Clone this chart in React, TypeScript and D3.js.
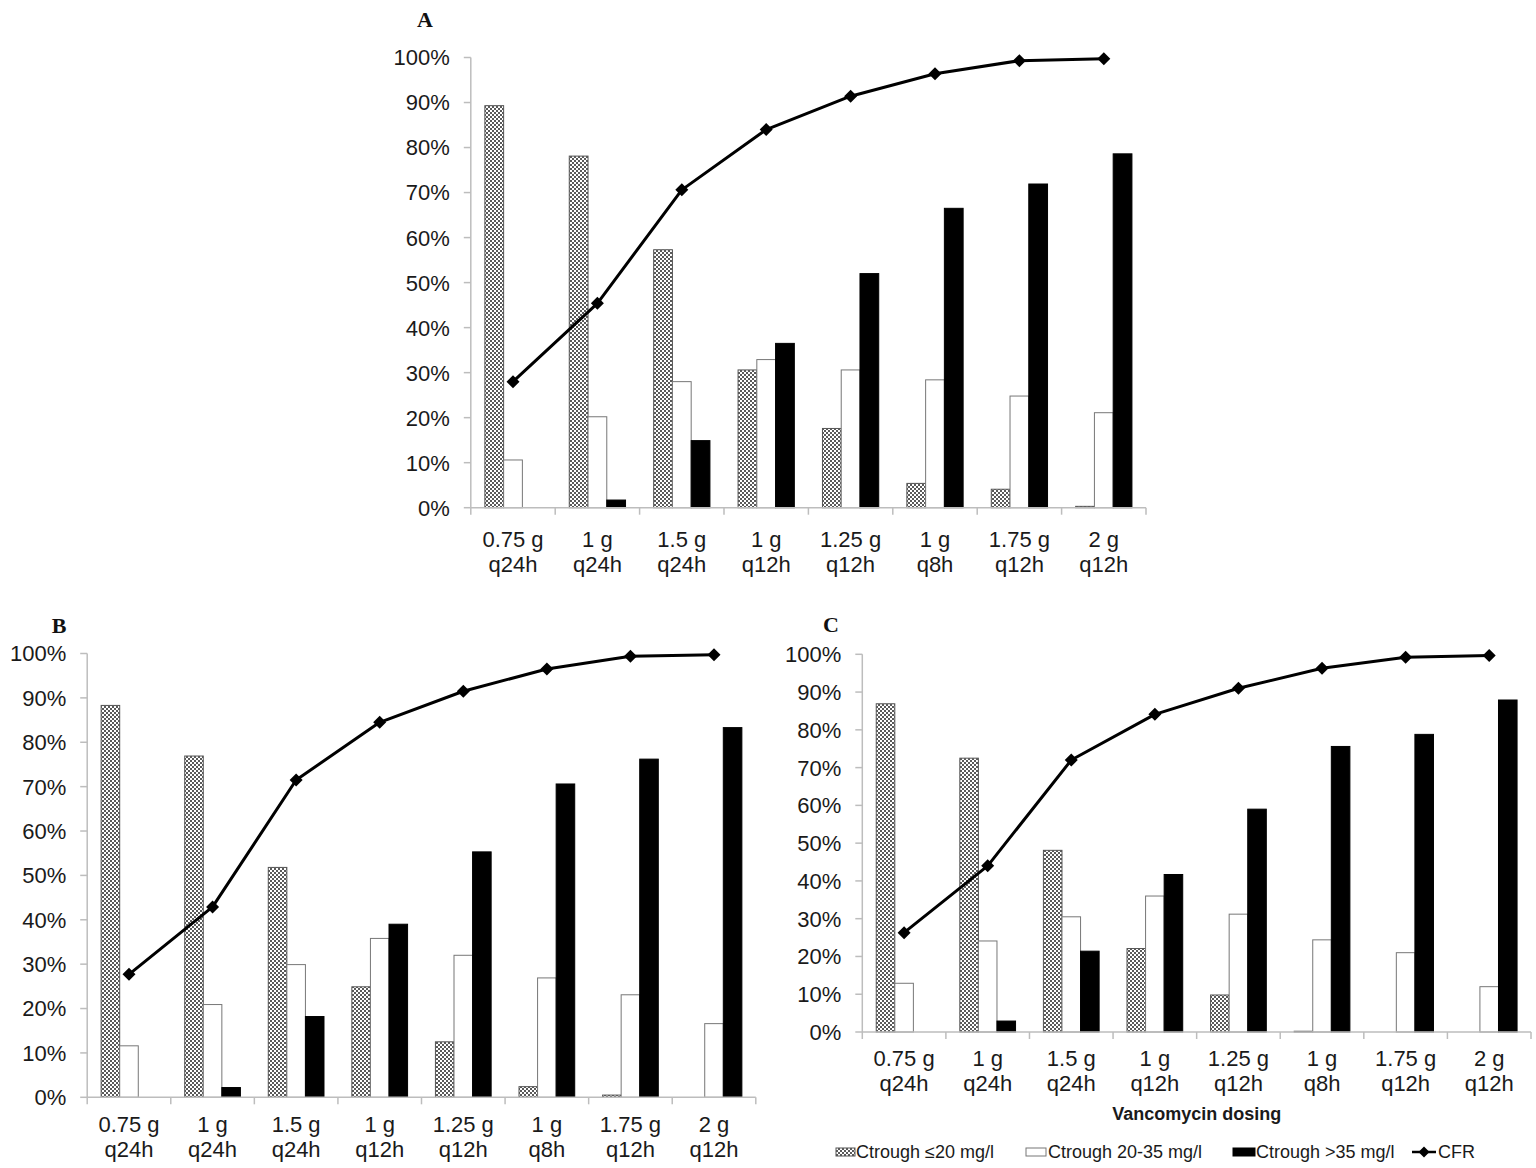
import * as d3 from "d3";
import React from "react";

// dosing regimens (two-line tick labels)
const doseLines = ["0.75 g", "1 g", "1.5 g", "1 g", "1.25 g", "1 g", "1.75 g", "2 g"];
const freqLines = ["q24h", "q24h", "q24h", "q12h", "q12h", "q8h", "q12h", "q12h"];
const categories = doseLines.map((d, i) => `${d} ${freqLines[i]}`);

const seriesNames = ["Ctrough \u226420 mg/l", "Ctrough 20-35 mg/l", "Ctrough >35 mg/l"];
const yTicks = [0, 10, 20, 30, 40, 50, 60, 70, 80, 90, 100];

// panel A
const aLow = [89.3, 78.1, 57.3, 30.6, 17.6, 5.4, 4.1, 0.3];
const aMid = [10.6, 20.2, 28.0, 32.9, 30.6, 28.4, 24.8, 21.1];
const aHigh = [0, 1.7, 14.9, 36.5, 52.0, 66.5, 71.9, 78.6];
const aCfr = [28.0, 45.4, 70.6, 84.0, 91.4, 96.4, 99.3, 99.7];

// panel B
const bLow = [88.3, 76.9, 51.8, 24.9, 12.5, 2.4, 0.5, 0];
const bMid = [11.6, 20.9, 29.9, 35.8, 32.0, 26.9, 23.1, 16.6];
const bHigh = [0, 2.2, 18.2, 39.0, 55.3, 70.6, 76.2, 83.3];
const bCfr = [27.7, 42.9, 71.5, 84.5, 91.5, 96.5, 99.4, 99.7];

// panel C
const cLow = [86.9, 72.5, 48.1, 22.1, 9.8, 0.2, 0, 0];
const cMid = [12.9, 24.1, 30.5, 36.0, 31.2, 24.4, 21.0, 12.0];
const cHigh = [0, 2.9, 21.4, 41.7, 59.0, 75.6, 78.8, 87.9];
const cCfr = [26.3, 44.0, 72.0, 84.1, 91.0, 96.3, 99.2, 99.7];

const FONT = "'Liberation Sans', Arial, sans-serif";
const AXIS = "#bdbdbd";
const TXT = "#1a1a1a";

const fills = ["url(#hatch)", "#fff", "#000"];
const strokes = ["#555", "#777", "#000"];

const diamond = (r: number) => `M0,${-r}L${r},0L0,${r}L${-r},0Z`;

const Panel = ({ cfg, low, mid, high, cfr }: any) => {
  const x = d3.scaleBand().domain(categories).range([cfg.left, cfg.right]);
  const inner = d3.scaleBand().domain(["0", "1", "2"]).range([0, x.step()]).paddingOuter(0.75);
  const y = d3.scaleLinear().domain([0, 100]).range([cfg.bottom, cfg.top]);
  const series = [low, mid, high];
  const line = d3.line<number>()
    .x((_, i) => (x(categories[i]) as number) + x.bandwidth() / 2)
    .y((d) => y(d));

  return (
    <g>
      <text x={cfg.letterX} y={cfg.letterY} textAnchor="middle"
        style={{ font: "bold 22px 'Liberation Serif', 'Times New Roman', serif" }} fill="#111">
        {cfg.letter}
      </text>

      {/* y axis */}
      <line x1={cfg.left} x2={cfg.left} y1={y(100)} y2={y(0)} stroke={AXIS} strokeWidth={1.5} />
      {yTicks.map((t) => (
        <g key={t}>
          <line x1={cfg.left - 7} x2={cfg.left} y1={y(t)} y2={y(t)} stroke={AXIS} strokeWidth={1.5} />
          <text x={cfg.left - 21} y={y(t)} dy="0.36em" textAnchor="end"
            style={{ font: `22px ${FONT}` }} fill={TXT}>{t}%</text>
        </g>
      ))}

      {/* bars */}
      {series.map((vals: number[], s: number) =>
        vals.map((v, i) =>
          v > 0 ? (
            <rect key={`${s}-${i}`}
              x={(x(categories[i]) as number) + (inner(String(s)) as number)}
              y={y(v)} width={inner.bandwidth()} height={y(0) - y(v)}
              fill={fills[s]} stroke={strokes[s]} strokeWidth={1} />
          ) : null
        )
      )}

      {/* x axis */}
      <line x1={cfg.left} x2={cfg.right} y1={y(0)} y2={y(0)} stroke={AXIS} strokeWidth={1.5} />
      {[...categories.map((c) => x(c) as number), cfg.right].map((p, i) => (
        <line key={i} x1={p} x2={p} y1={y(0)} y2={y(0) + 7} stroke={AXIS} strokeWidth={1.5} />
      ))}
      {categories.map((c, i) => {
        const cx = (x(c) as number) + x.bandwidth() / 2;
        return (
          <text key={c} x={cx} textAnchor="middle" style={{ font: `22px ${FONT}` }} fill={TXT}>
            <tspan x={cx} y={y(0) + cfg.labelOffset}>{doseLines[i]}</tspan>
            <tspan x={cx} y={y(0) + cfg.labelOffset + 25}>{freqLines[i]}</tspan>
          </text>
        );
      })}

      {/* CFR */}
      <path d={line(cfr) as string} fill="none" stroke="#000" strokeWidth={3} strokeLinejoin="round" />
      {cfr.map((v: number, i: number) => (
        <path key={i} d={diamond(6.5)}
          transform={`translate(${(x(categories[i]) as number) + x.bandwidth() / 2},${y(v)})`} fill="#000" />
      ))}
    </g>
  );
};

const panelA = { letter: "A", letterX: 425, letterY: 27, left: 470.8, right: 1146, top: 57.5, bottom: 507.7, labelOffset: 39 };
const panelB = { letter: "B", letterX: 59, letterY: 633, left: 87.2, right: 755.8, top: 653.5, bottom: 1097.3, labelOffset: 35 };
const panelC = { letter: "C", letterX: 831, letterY: 632, left: 862.3, right: 1531, top: 654.3, bottom: 1032, labelOffset: 34 };

const legendItems = [
  { name: seriesNames[0], sx: 836, sw: 19, tx: 856 },
  { name: seriesNames[1], sx: 1026, sw: 20, tx: 1048 },
  { name: seriesNames[2], sx: 1233, sw: 22, tx: 1256 },
  { name: "CFR", sx: 1412, sw: 24, tx: 1438 },
];

export default function App() {
  const legendY = 1152;
  return (
    <svg width={1536} height={1168} viewBox="0 0 1536 1168"
      style={{ position: "absolute", left: 0, top: 0, background: "#fff" }}>
      <defs>
        <pattern id="hatch" width={4} height={4} patternUnits="userSpaceOnUse">
          <rect width={4} height={4} fill="#5a5a5a" />
          <rect x={0} y={0} width={2} height={2} fill="#fff" />
          <rect x={2} y={2} width={2} height={2} fill="#fff" />
        </pattern>
      </defs>
      <rect width={1536} height={1168} fill="#fff" />

      <Panel cfg={panelA} low={aLow} mid={aMid} high={aHigh} cfr={aCfr} />
      <Panel cfg={panelB} low={bLow} mid={bMid} high={bHigh} cfr={bCfr} />
      <Panel cfg={panelC} low={cLow} mid={cMid} high={cHigh} cfr={cCfr} />

      <text x={(panelC.left + panelC.right) / 2} y={1120} textAnchor="middle"
        style={{ font: `bold 18px ${FONT}` }} fill={TXT}>Vancomycin dosing</text>

      {legendItems.map((it, i) => (
        <g key={it.name}>
          {i < 3 ? (
            <rect x={it.sx} y={legendY - 4} width={it.sw} height={8}
              fill={fills[i]} stroke={strokes[i]} strokeWidth={1} />
          ) : (
            <g>
              <line x1={it.sx} x2={it.sx + it.sw} y1={legendY} y2={legendY} stroke="#000" strokeWidth={2.5} />
              <path d={diamond(5.5)} transform={`translate(${it.sx + it.sw / 2},${legendY})`} fill="#000" />
            </g>
          )}
          <text x={it.tx} y={legendY} dy="0.36em" style={{ font: `18px ${FONT}` }} fill={TXT}>{it.name}</text>
        </g>
      ))}
    </svg>
  );
}
